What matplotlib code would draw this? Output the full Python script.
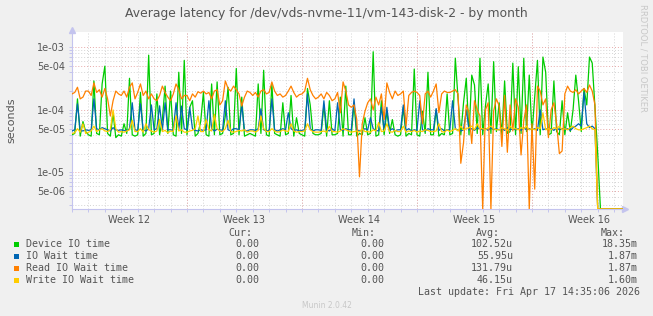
import numpy as np
import matplotlib
matplotlib.use('Agg')
import matplotlib.pyplot as plt
from matplotlib.patches import Rectangle

# munin "by month" graph, 6 samples per day (4h steps), day 0 = start of week 12
# all values in microseconds, 0 = no data / zero
SAMPLES_PER_DAY = 6

device_io = [
    40, 42, 150, 38, 65, 45,
    40, 38, 290, 42, 40, 260,
    500, 42, 38, 90, 36, 40,
    38, 60, 42, 320, 40, 38,
    40, 190, 38, 42, 750, 40,
    42, 180, 40, 70, 240, 42,
    200, 40, 38, 400, 42, 620,
    40, 110, 140, 38, 42, 65,
    190, 40, 38, 260, 40, 280,
    40, 42, 80, 230, 40, 42,
    460, 40, 160, 38, 40, 42,
    40, 38, 260, 42, 430, 40,
    38, 260, 42, 40, 38, 130,
    40, 42, 170, 38, 75, 42,
    40, 38, 220, 120, 42, 40,
    40, 42, 120, 38, 140, 40,
    40, 42, 160, 38, 240, 40,
    40, 125, 38, 42, 40, 75,
    40, 42, 850, 38, 40, 140,
    40, 95, 42, 70, 40, 38,
    40, 110, 38, 42, 40, 450,
    40, 38, 95, 42, 400, 40,
    40, 100, 38, 42, 40, 180,
    40, 42, 670, 150, 40, 130,
    320, 40, 360, 250, 42, 670,
    40, 116, 260, 42, 590, 45,
    130, 40, 290, 42, 45, 560,
    40, 490, 42, 670, 45, 360,
    42, 160, 620, 40, 700, 400,
    40, 42, 290, 45, 40, 140,
    40, 90, 45, 100, 360, 140,
    45, 220, 120, 700, 560, 110,
    20, 0, 0, 0, 0, 0,
    0, 0, 0, 0, 0, 0,
]

io_wait = [
    46, 48, 125, 47, 46, 48,
    47, 48, 150, 50, 48, 52,
    50, 48, 46, 52, 48, 47,
    48, 47, 46, 50, 130, 48,
    47, 125, 48, 46, 50, 120,
    48, 50, 116, 47, 130, 48,
    48, 47, 130, 48, 115, 50,
    48, 110, 50, 47, 46, 48,
    47, 48, 140, 50, 46, 49,
    48, 47, 140, 48, 46, 50,
    50, 48, 120, 47, 46, 48,
    48, 47, 50, 104, 48, 46,
    47, 150, 48, 46, 48, 50,
    48, 90, 50, 47, 48, 46,
    47, 48, 180, 50, 46, 48,
    48, 47, 140, 48, 46, 50,
    46, 130, 48, 47, 50, 48,
    48, 150, 47, 46, 48, 50,
    48, 75, 50, 47, 46, 110,
    48, 110, 47, 50, 46, 48,
    48, 120, 47, 50, 46, 48,
    47, 140, 48, 46, 50, 48,
    48, 105, 47, 50, 46, 48,
    48, 140, 50, 47, 46, 48,
    100, 48, 50, 47, 52, 50,
    48, 50, 47, 52, 48, 50,
    48, 50, 47, 52, 48, 50,
    48, 50, 47, 52, 48, 50,
    48, 50, 47, 100, 48, 50,
    48, 50, 47, 52, 48, 50,
    48, 50, 47, 52, 55, 60,
    55, 190, 60, 52, 55, 50,
    0, 0, 0, 0, 0, 0,
    0, 0, 0, 0, 0, 0,
]

read_io_wait = [
    180, 190, 230, 150, 160, 200,
    200, 170, 270, 190, 210, 160,
    220, 150, 80, 140, 200, 180,
    170, 200, 160, 230, 270, 150,
    190, 260, 170, 200, 150, 180,
    150, 140, 170, 240, 190, 160,
    140, 180, 260, 210, 150, 170,
    170, 140, 180, 160, 195, 185,
    200, 180, 190, 150, 200, 210,
    120, 140, 290, 220, 200, 240,
    210, 180, 115, 160, 200, 190,
    170, 190, 160, 200, 210, 180,
    190, 280, 200, 170, 180, 160,
    170, 200, 240, 190, 160, 175,
    180, 200, 320, 210, 170, 150,
    160, 180, 150, 190, 170, 140,
    150, 190, 90, 280, 200, 120,
    110, 120, 70, 8.5, 60, 95,
    130, 150, 100, 160, 120, 180,
    70, 270, 190, 150, 200, 170,
    180, 200, 55, 170, 190, 200,
    190, 170, 60, 180, 200, 160,
    200, 260, 90, 180, 200, 190,
    190, 200, 210, 180, 14, 30,
    120, 90, 29, 140, 100, 80,
    0, 100, 130, 0, 96, 150,
    116, 26, 170, 21, 120, 46,
    150, 110, 19, 67, 120, 0,
    60, 5.4, 240, 200, 120, 150,
    36, 100, 130, 60, 20, 22,
    180, 240, 200, 190, 210, 180,
    200, 220, 190, 250, 200, 120,
    0, 0, 0, 0, 0, 0,
    0, 0, 0, 0, 0, 0,
]

write_io_wait = [
    42, 43, 50, 44, 60, 42,
    44, 46, 55, 45, 48, 50,
    46, 45, 48, 100, 50, 44,
    45, 44, 46, 48, 68, 45,
    45, 50, 44, 60, 48, 46,
    44, 46, 70, 45, 47, 43,
    46, 45, 80, 46, 48, 44,
    44, 46, 47, 50, 80, 45,
    45, 70, 48, 46, 85, 50,
    46, 45, 50, 68, 45, 44,
    45, 47, 46, 48, 44, 46,
    46, 44, 47, 80, 50, 45,
    45, 50, 46, 44, 45, 48,
    46, 45, 60, 46, 44, 45,
    45, 46, 60, 48, 45, 44,
    44, 45, 46, 44, 55, 45,
    45, 44, 46, 50, 48, 46,
    44, 45, 46, 44, 50, 45,
    45, 44, 48, 46, 63, 45,
    46, 60, 45, 44, 47, 45,
    45, 55, 44, 46, 45, 47,
    44, 46, 45, 48, 47, 45,
    45, 46, 60, 45, 44, 48,
    45, 47, 50, 46, 55, 48,
    50, 52, 55, 48, 60, 50,
    50, 48, 52, 55, 50, 48,
    48, 52, 50, 47, 55, 50,
    50, 48, 52, 50, 55, 48,
    50, 48, 52, 50, 90, 48,
    50, 48, 52, 50, 55, 48,
    50, 48, 52, 55, 50, 48,
    48, 50, 52, 55, 50, 48,
    0, 0, 0, 0, 0, 0,
    0, 0, 0, 0, 0, 0,
]

series_names = ['Device IO time', 'IO Wait time', 'Read IO Wait time', 'Write IO Wait time']
series_colors = ['#00cc00', '#0066b3', '#ff8000', '#ffcc00']
cur_vals = ['0.00', '0.00', '0.00', '0.00']
min_vals = ['0.00', '0.00', '0.00', '0.00']
avg_vals = ['102.52u', '55.95u', '131.79u', '46.15u']
max_vals = ['18.35m', '1.87m', '1.87m', '1.60m']

week_labels = ['Week 12', 'Week 13', 'Week 14', 'Week 15', 'Week 16']
week_label_days = [3.5, 10.5, 17.5, 24.5, 31.5]
week_start_days = [7, 14, 21, 28]

ymin, ymax = 2.6e-6, 1.74e-3
xmin, xmax = 0.28, 33.54

W, H = 653, 316
txt = '#555555'

plt.rcParams['font.family'] = 'DejaVu Sans'
fig = plt.figure(figsize=(W / 100, H / 100), dpi=100, facecolor='#f0f0f0')
ax = fig.add_axes([72 / W, 1 - 209 / H, (623 - 72) / W, (209 - 32.3) / H])
ax.set_facecolor('white')

all_series = [device_io, io_wait, read_io_wait, write_io_wait]
for vals, col in zip(all_series, series_colors):
    v = np.array(vals, dtype=float) * 1e-6
    v = np.clip(v, ymin, None)   # zeros get drawn on the bottom edge like rrdtool
    t = np.arange(len(v)) / SAMPLES_PER_DAY
    ax.plot(t, v, color=col, lw=0.9, zorder=3)

ax.set_yscale('log')
ax.set_ylim(ymin, ymax)
ax.set_xlim(xmin, xmax)

# y grid: labelled values red-ish, the rest grey
major_y = [5e-6, 1e-5, 5e-5, 1e-4, 5e-4, 1e-3]
minor_y = [k * 10.0 ** e for e in range(-6, -2) for k in range(1, 10)]
minor_y = [m for m in minor_y if ymin < m < ymax and not any(abs(m - a) < 1e-12 for a in major_y)]
ax.set_yticks(major_y, ['5e-06', '1e-05', '5e-05', '1e-04', '5e-04', '1e-03'])
ax.set_yticks(minor_y, minor=True)
ax.yaxis.set_minor_formatter(plt.NullFormatter())

ax.set_xticks(week_label_days, week_labels)
ax.set_xticks(np.arange(0, 34), minor=True)

dot = (0, (1, 2))
ax.grid(True, which='major', axis='y', color='#e7a9a9', lw=0.7, ls=dot)
ax.grid(True, which='minor', axis='y', color='#d4d4d4', lw=0.7, ls=dot)
ax.grid(True, which='minor', axis='x', color='#d4d4d4', lw=0.7, ls=dot)
for d in week_start_days:
    ax.axvline(d, color='#e7a9a9', lw=0.7, ls=dot, zorder=1.5)
ax.set_axisbelow(True)

axis_col = '#c4c4ee'
for s in ['top', 'right']:
    ax.spines[s].set_visible(False)
for s in ['left', 'bottom']:
    ax.spines[s].set_color(axis_col)
    ax.spines[s].set_linewidth(0.8)
ax.tick_params(axis='x', which='major', length=0, labelsize=7, labelcolor=txt, pad=4)
ax.tick_params(axis='x', which='minor', length=2, color=axis_col, width=0.7)
ax.tick_params(axis='y', which='both', length=2, color=axis_col, width=0.7, labelsize=7, labelcolor=txt, pad=3)

# axis arrows
ax.plot([1.004], [0], marker='>', ms=4, color=axis_col, transform=ax.transAxes, clip_on=False)
ax.plot([0], [1.015], marker='^', ms=4, color=axis_col, transform=ax.transAxes, clip_on=False)


def fx(px):
    return px / W


def fy(py):
    return 1 - py / H


fig.text(0.5, fy(13), 'Average latency for /dev/vds-nvme-11/vm-143-disk-2 - by month',
         ha='center', va='center', fontsize=8.9, color=txt)
fig.text(fx(11), fy(120), 'seconds', rotation=90, ha='center', va='center', fontsize=8, color=txt)
fig.text(fx(643), fy(58), 'RRDTOOL / TOBI OETIKER', rotation=270, ha='center', va='center',
         fontsize=6, color='#c8c8c8')

mono = 'DejaVu Sans Mono'
fs = 7.2
for hx, h in zip([252, 376, 500, 625], ['Cur:', 'Min:', 'Avg:', 'Max:']):
    fig.text(fx(hx), fy(232.7), h, ha='right', va='center', family=mono, fontsize=fs, color=txt)

row_y = [244, 256, 268.3, 280.3]
for i, name in enumerate(series_names):
    y = row_y[i]
    fig.patches.append(Rectangle((fx(14), fy(y + 2.5)), 5 / W, 5 / H, transform=fig.transFigure,
                                 facecolor=series_colors[i], edgecolor='none'))
    fig.text(fx(26), fy(y), name, ha='left', va='center', family=mono, fontsize=fs, color=txt)
    for cx, col in zip([259, 384, 513, 638], [cur_vals, min_vals, avg_vals, max_vals]):
        fig.text(fx(cx), fy(y), col[i], ha='right', va='center', family=mono, fontsize=fs, color=txt)

fig.text(fx(640), fy(292.3), 'Last update: Fri Apr 17 14:35:06 2026', ha='right', va='center',
         family=mono, fontsize=fs, color=txt)
fig.text(fx(326.5), fy(305.7), 'Munin 2.0.42', ha='center', va='center', fontsize=5.5, color='#c8c8c8')

fig.savefig('out.png', dpi=100, facecolor=fig.get_facecolor())
